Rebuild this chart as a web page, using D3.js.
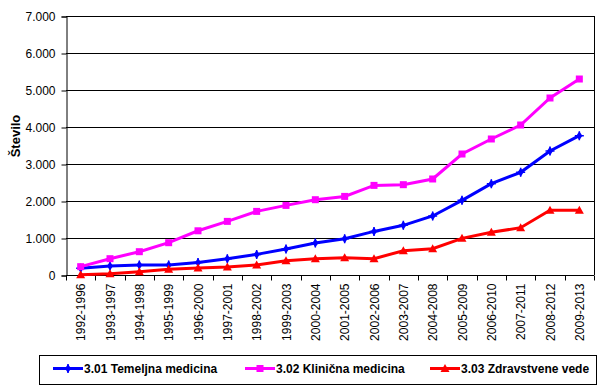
<!DOCTYPE html>
<html><head><meta charset="utf-8">
<script src="https://cdn.jsdelivr.net/npm/d3@7"></script>
<style>body{margin:0;background:#fff}svg{display:block}</style>
</head><body>
<script>
const categories = ["1992-1996","1993-1997","1994-1998","1995-1999","1996-2000","1997-2001","1998-2002","1999-2003","2000-2004","2001-2005","2002-2006","2003-2007","2004-2008","2005-2009","2006-2010","2007-2011","2008-2012","2009-2013"];
const temeljna = [180,243,270,270,340,441,557,703,865,981,1178,1343,1595,2018,2468,2775,3351,3765];
const klinicna = [225,441,630,873,1195,1449,1719,1881,2035,2124,2422,2441,2595,3270,3676,4054,4784,5297];
const zdravstvene = [10,35,90,154,189,216,270,386,441,468,441,657,711,991,1153,1279,1748,1748];
const seriesNames = ["3.01 Temeljna medicina","3.02 Klinična medicina","3.03 Zdravstvene vede"];
const yTicks = [0,1000,2000,3000,4000,5000,6000,7000];
const yTitle = "Število";

(function(){
const W=603,H=390;
const svg=d3.select("body").append("svg").attr("width",W).attr("height",H);
const pL=66,pR=594,pT=16,pB=275;
const x=d3.scaleBand().domain(categories).range([pL,pR]).padding(0);
const y=d3.scaleLinear().domain([0,7000]).range([pB,pT]);
const fmt=v=>d3.format(",")(v).replace(/,/g,".");
const font="Liberation Sans, Arial, sans-serif";

// gridlines
svg.append("g").selectAll("line").data(yTicks.filter(d=>d>0)).join("line")
 .attr("x1",pL).attr("x2",pR).attr("y1",d=>Math.round(y(d))+0.5).attr("y2",d=>Math.round(y(d))+0.5)
 .attr("stroke","#000").attr("stroke-width",1);
// right border
svg.append("line").attr("x1",pR+0.5).attr("x2",pR+0.5).attr("y1",pT).attr("y2",pB).attr("stroke","#000");

// y axis
const ya=svg.append("g").attr("transform",`translate(${pL+0.5},0.5)`)
 .call(d3.axisLeft(y).tickValues(yTicks).tickFormat(fmt).tickSizeOuter(0).tickSize(5).tickPadding(6));
ya.selectAll("text").attr("font-family",font).attr("font-size",12).attr("fill","#000");
ya.selectAll("line,path").attr("stroke","#000");

// x axis
const xa=svg.append("g").attr("transform",`translate(0,${pB+0.5})`);
xa.append("line").attr("x1",pL).attr("x2",pR).attr("stroke","#000");
const bounds=categories.map(c=>x(c)).concat([pR]);
xa.selectAll("line.t").data(bounds).join("line").attr("class","t")
 .attr("x1",d=>Math.round(d)+0.5).attr("x2",d=>Math.round(d)+0.5).attr("y1",0).attr("y2",5).attr("stroke","#000");
xa.selectAll("text").data(categories).join("text")
 .attr("transform",d=>`translate(${x(d)+x.bandwidth()/2+4.5},8) rotate(-90)`)
 .attr("text-anchor","end").attr("font-family",font).attr("font-size",12).attr("fill","#000").text(d=>d);

// y title
svg.append("text").attr("transform",`translate(20,136) rotate(-90)`).attr("text-anchor","middle")
 .attr("font-family",font).attr("font-size",13).attr("font-weight","bold").text(yTitle);

const cx=c=>x(c)+x.bandwidth()/2;
const series=[
 {name:seriesNames[0],values:temeljna,color:"#0000FF",shape:"diamond"},
 {name:seriesNames[1],values:klinicna,color:"#FF00FF",shape:"square"},
 {name:seriesNames[2],values:zdravstvene,color:"#FF0000",shape:"triangle"}
];
function marker(g,shape,color){
 if(shape==="diamond"){
  g.append("path").attr("d","M0,-4.5L3,0L0,4.5L-3,0Z").attr("fill",color);
  g.append("path").attr("d","M-4.5,0L4.5,0M0,-4.5L0,4.5").attr("stroke",color).attr("stroke-width",1.5);
 } else if(shape==="square"){
  g.append("rect").attr("x",-3.5).attr("y",-3.5).attr("width",7).attr("height",7).attr("fill",color);
 } else {
  g.append("path").attr("d","M0,-4.5L4.5,3.5L-4.5,3.5Z").attr("fill",color);
 }
}
const line=d3.line().x((d,i)=>cx(categories[i])).y(d=>y(d));
series.forEach(s=>{
 svg.append("path").datum(s.values).attr("d",line).attr("fill","none").attr("stroke",s.color).attr("stroke-width",3);
 s.values.forEach((v,i)=>{
  const g=svg.append("g").attr("transform",`translate(${cx(categories[i])},${y(v)})`);
  marker(g,s.shape,s.color);
 });
});

// legend
svg.append("rect").attr("x",39.5).attr("y",355.5).attr("width",557).attr("height",29).attr("fill","#fff").attr("stroke","#000");
const lx=[53,245,430];
series.forEach((s,i)=>{
 const g=svg.append("g").attr("transform",`translate(${lx[i]},368.5)`);
 g.append("line").attr("x1",0).attr("x2",30).attr("stroke",s.color).attr("stroke-width",3);
 marker(g.append("g").attr("transform","translate(15,0)"),s.shape,s.color);
 g.append("text").attr("x",31).attr("y",4.5).attr("font-family",font).attr("font-size",12).attr("font-weight","bold").text(s.name);
});
})();
</script>
</body></html>
